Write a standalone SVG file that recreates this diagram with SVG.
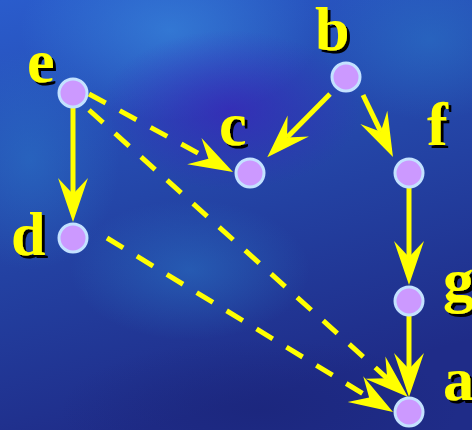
<svg xmlns="http://www.w3.org/2000/svg" width="472" height="430" viewBox="0 0 472 430">
<defs>
<linearGradient id="bg" x1="0" y1="0" x2="0.3" y2="1">
<stop offset="0" stop-color="#2a5ccc"/>
<stop offset="0.5" stop-color="#2446a8"/>
<stop offset="1" stop-color="#1f2c88"/>
</linearGradient>
<radialGradient id="g1" cx="0.5" cy="0.5" r="0.5">
<stop offset="0" stop-color="#3a8ee0" stop-opacity="0.6"/>
<stop offset="1" stop-color="#3a8ee0" stop-opacity="0"/>
</radialGradient>
<radialGradient id="g2" cx="0.5" cy="0.5" r="0.5">
<stop offset="0" stop-color="#3a22b8" stop-opacity="0.7"/>
<stop offset="1" stop-color="#3a22b8" stop-opacity="0"/>
</radialGradient>
<radialGradient id="g3" cx="0.5" cy="0.5" r="0.5">
<stop offset="0" stop-color="#2a78c8" stop-opacity="0.5"/>
<stop offset="1" stop-color="#2a78c8" stop-opacity="0"/>
</radialGradient>
<radialGradient id="g4" cx="0.5" cy="0.5" r="0.5">
<stop offset="0" stop-color="#1a2478" stop-opacity="0.6"/>
<stop offset="1" stop-color="#1a2478" stop-opacity="0"/>
</radialGradient>
<filter id="shadow" x="-20%" y="-20%" width="150%" height="150%">
<feDropShadow dx="3" dy="3" stdDeviation="0.3" flood-color="#000000" flood-opacity="1"/>
</filter>
<marker id="ah" markerUnits="userSpaceOnUse" viewBox="-20 -20 50 40" refX="0" refY="0" markerWidth="50" markerHeight="40" orient="auto">
<path d="M28,0 L-16,-15 L0,0 L-16,15 Z" fill="#ffff00"/>
</marker>
</defs>
<style>
.edge{stroke:#ffff00;stroke-width:5;fill:none;marker-end:url(#ah)}
.dash{stroke-dasharray:19 16}
.node circle{fill:#cc99ff;stroke:#c4e2ff;stroke-width:3}
.lbl{font-family:"Liberation Serif","Times New Roman",serif;font-weight:bold;font-size:62px;fill:#ffff00;filter:url(#shadow)}
</style>
<rect width="472" height="430" fill="url(#bg)"/>
<ellipse cx="170" cy="30" rx="150" ry="90" fill="url(#g1)"/>
<ellipse cx="430" cy="40" rx="110" ry="80" fill="url(#g3)"/>
<ellipse cx="30" cy="160" rx="90" ry="110" fill="url(#g3)"/>
<ellipse cx="230" cy="110" rx="130" ry="80" fill="url(#g2)"/>
<ellipse cx="190" cy="270" rx="120" ry="70" fill="url(#g3)"/>
<ellipse cx="260" cy="410" rx="200" ry="70" fill="url(#g4)"/>
<g id="connectors">
<line class="edge" x1="73" y1="108" x2="73" y2="194"/>
<line class="edge" x1="330" y1="94" x2="287" y2="137.4"/>
<line class="edge" x1="363" y1="95" x2="380.8" y2="131.8"/>
<line class="edge" x1="409" y1="188" x2="409" y2="257"/>
<line class="edge" x1="409" y1="316" x2="409" y2="369"/>
<line class="edge dash" x1="89" y1="94" x2="208.4" y2="158.7"/>
<line class="edge dash" x1="89" y1="110" x2="387.2" y2="378.3"/>
<line class="edge dash" x1="107" y1="238" x2="369.1" y2="397.4"/>
</g>
<g id="node-e" class="node"><circle cx="73" cy="93" r="14"/><text class="lbl" x="27" y="82">e</text></g>
<g id="node-b" class="node"><circle cx="346" cy="77" r="14"/><text class="lbl" x="315" y="50">b</text></g>
<g id="node-c" class="node"><circle cx="250" cy="173" r="14"/><text class="lbl" x="219" y="145">c</text></g>
<g id="node-f" class="node"><circle cx="409" cy="173" r="14"/><text class="lbl" x="427" y="145">f</text></g>
<g id="node-d" class="node"><circle cx="73" cy="238" r="14"/><text class="lbl" x="11" y="255">d</text></g>
<g id="node-g" class="node"><circle cx="409" cy="301" r="14"/><text class="lbl" x="443" y="301">g</text></g>
<g id="node-a" class="node"><circle cx="409" cy="412" r="14"/><text class="lbl" x="443" y="400">a</text></g>
</svg>
